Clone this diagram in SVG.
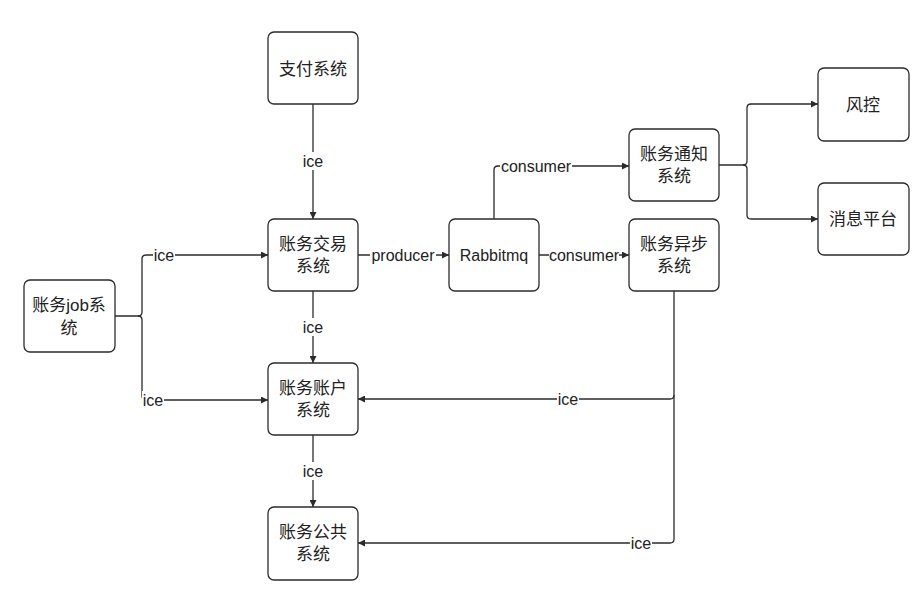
<svg xmlns="http://www.w3.org/2000/svg" width="918" height="599" viewBox="0 0 918 599">
<style>
.n rect{fill:#fff;stroke:#2b2b2b;stroke-width:1.3}
.n text{font-family:"Liberation Sans","Noto Sans CJK SC",sans-serif;font-size:17px;fill:#222;text-anchor:middle;dominant-baseline:central}
.c path{fill:none;stroke:#2b2b2b;stroke-width:1.3}
.l{font-family:"Liberation Sans","Noto Sans CJK SC",sans-serif;font-size:16px;fill:#222;text-anchor:middle;dominant-baseline:central}
.bg{fill:#fff}
</style>
<defs>
<marker id="a" viewBox="0 0 10 10" refX="10" refY="5" markerWidth="7" markerHeight="7" markerUnits="userSpaceOnUse" orient="auto">
<path d="M0,0 L10,5 L0,10 z" fill="#2b2b2b"/>
</marker>
</defs>
<rect width="918" height="599" fill="#fff"/>
<g class="c" id="connectors">
<path d="M313,104 V219" marker-end="url(#a)"/>
<path d="M313,291 V363" marker-end="url(#a)"/>
<path d="M313,435 V507" marker-end="url(#a)"/>
<path d="M115,316 H138 Q142,316 142,312 V259 Q142,255 146,255 H268" marker-end="url(#a)"/>
<path d="M138,316 Q142,316 142,320 V396 Q142,400 146,400 H268" marker-end="url(#a)"/>
<path d="M358,255 H449" marker-end="url(#a)"/>
<path d="M539,255 H629" marker-end="url(#a)"/>
<path d="M494,219 V170 Q494,166 498,166 H629" marker-end="url(#a)"/>
<path d="M719,165 H743 Q747,165 747,161 V108 Q747,104 751,104 H818" marker-end="url(#a)"/>
<path d="M743,165 Q747,165 747,169 V215 Q747,219 751,219 H818" marker-end="url(#a)"/>
<path d="M674,291 V395 Q674,399 670,399 H358" marker-end="url(#a)"/>
<path d="M674,395 V539 Q674,543 670,543 H358" marker-end="url(#a)"/>
<g id="labels">
<rect class="bg" x="302" y="152" width="22" height="18"/><text class="l" x="313" y="161">ice</text>
<rect class="bg" x="302" y="318" width="22" height="18"/><text class="l" x="313" y="327">ice</text>
<rect class="bg" x="302" y="462" width="22" height="18"/><text class="l" x="313" y="471">ice</text>
<rect class="bg" x="153" y="246" width="22" height="18"/><text class="l" x="164" y="255">ice</text>
<rect class="bg" x="142" y="391" width="22" height="18"/><text class="l" x="153" y="400">ice</text>
<rect class="bg" x="370" y="246" width="66" height="18"/><text class="l" x="403" y="255">producer</text>
<rect class="bg" x="549" y="246" width="70" height="18"/><text class="l" x="584" y="255">consumer</text>
<rect class="bg" x="500" y="157" width="72" height="18"/><text class="l" x="536" y="166">consumer</text>
<rect class="bg" x="557" y="390" width="22" height="18"/><text class="l" x="568" y="399">ice</text>
<rect class="bg" x="630" y="534" width="22" height="18"/><text class="l" x="641" y="543">ice</text>
</g>
</g>
<g class="n" id="zhifu"><rect x="268" y="32" width="90" height="72" rx="6"/><text x="313" y="69">支付系统</text></g>
<g class="n" id="jiaoyi"><rect x="268" y="219" width="90" height="72" rx="6"/><text x="313" y="244">账务交易</text><text x="313" y="266">系统</text></g>
<g class="n" id="rabbitmq"><rect x="449" y="219" width="90" height="72" rx="6"/><text x="494" y="255" style="font-size:16px">Rabbitmq</text></g>
<g class="n" id="yibu"><rect x="629" y="219" width="90" height="72" rx="6"/><text x="674" y="244">账务异步</text><text x="674" y="266">系统</text></g>
<g class="n" id="tongzhi"><rect x="629" y="129" width="90" height="72" rx="6"/><text x="674" y="154">账务通知</text><text x="674" y="176">系统</text></g>
<g class="n" id="fengkong"><rect x="818" y="68" width="91" height="73" rx="6"/><text x="863" y="105">风控</text></g>
<g class="n" id="xiaoxi"><rect x="818" y="183" width="91" height="72" rx="6"/><text x="863" y="219">消息平台</text></g>
<g class="n" id="job"><rect x="24" y="280" width="91" height="72" rx="6"/><text x="69" y="305">账务job系</text><text x="69" y="328">统</text></g>
<g class="n" id="zhanghu"><rect x="268" y="363" width="90" height="72" rx="6"/><text x="313" y="388">账务账户</text><text x="313" y="410">系统</text></g>
<g class="n" id="gonggong"><rect x="268" y="507" width="90" height="73" rx="6"/><text x="313" y="532">账务公共</text><text x="313" y="554">系统</text></g>
</svg>
